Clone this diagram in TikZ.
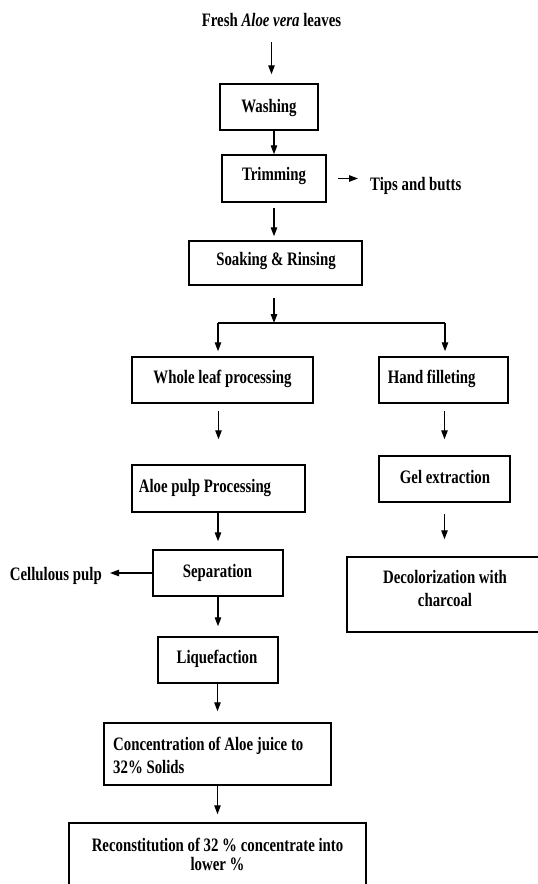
\documentclass[tikz,border=0pt]{standalone}
\usepackage{fontspec}
\setmainfont{Liberation Serif}[FakeStretch=0.78]
\usetikzlibrary{arrows.meta}
\begin{document}
\begin{tikzpicture}[x=1bp,y=-1bp,
  box/.style={draw, line width=1.5bp, rectangle, inner sep=0pt},
  txt/.style={inner sep=0pt, font=\fontsize{19bp}{23bp}\selectfont\bfseries},
  arr/.style={line width=1.25bp, -{Triangle[length=9bp,width=6.5bp]}},
  ln/.style={line width=1.25bp}]
\useasboundingbox (0,0) rectangle (538,884);
\fill[white] (0,0) rectangle (538,884);
\clip (0,0) rectangle (538,884);

% boxes
\node[box, minimum width=98bp,  minimum height=46bp] (wash)  at (269,107) {};
\node[box, minimum width=104bp, minimum height=47bp] (trim)  at (274,178.5) {};
\node[box, minimum width=173bp, minimum height=44bp] (soak)  at (275.5,263) {};
\node[box, minimum width=181bp, minimum height=46bp] (whole) at (222.5,380) {};
\node[box, minimum width=129bp, minimum height=46bp] (hand)  at (443.5,380) {};
\node[box, minimum width=173bp, minimum height=47bp] (pulp)  at (218.5,488.5) {};
\node[box, minimum width=131bp, minimum height=46bp] (gel)   at (444.5,479) {};
\node[box, minimum width=130bp, minimum height=46bp] (sep)   at (218,573) {};
\node[box, minimum width=198bp, minimum height=75bp] (decol) at (446,594.5) {};
\node[box, minimum width=120bp, minimum height=46bp] (liq)   at (218,660) {};
\node[box, minimum width=227bp, minimum height=62bp] (conc)  at (217.5,754) {};
\node[box, minimum width=297bp, minimum height=66bp] (recon) at (217.5,856) {};

% texts
\node[txt, anchor=base] (fresh) at (271.5,26) {Fresh \textit{Aloe vera} leaves};
\node[txt, anchor=base] (washT) at (269,112) {Washing};
\node[txt, anchor=base] (trimT) at (274,180) {Trimming};
\node[txt, anchor=base west] (tips) at (370,190) {Tips and butts};
\node[txt, anchor=base] (soakT) at (276,265) {Soaking \& Rinsing};
\node[txt, anchor=base] (wholeT) at (222.5,383) {Whole leaf processing};
\node[txt, anchor=base] (handT) at (431.7,383) {Hand filleting};
\node[txt, anchor=base] (pulpT) at (205,492) {Aloe pulp Processing};
\node[txt, anchor=base] (gelT) at (445,483) {Gel extraction};
\node[txt, anchor=base] (sepT) at (217.5,577) {Separation};
\node[txt, anchor=base east] (cell) at (102,580) {Cellulous pulp};
\node[txt, align=center] (decolT) at (445,588) {Decolorization with\\charcoal};
\node[txt, anchor=base] (liqT) at (217,663) {Liquefaction};
\node[txt, align=left, anchor=west] (concT) at (113,755) {Concentration of Aloe juice to\\32\% Solids};
\node[txt, align=center, font=\fontsize{19bp}{19bp}\selectfont\bfseries] (reconT) at (217.5,854) {Reconstitution of 32 \% concentrate into\\lower \%};

% connectors
\coordinate (split) at (274,323);
\coordinate (sl) at (218,323);
\coordinate (sr) at (445,323);

\draw[arr, shorten <=16bp, shorten >=9bp] (fresh.south) -- (fresh.south |- wash.north);
\draw[arr] (wash.south -| trim.north) -- (trim.north);
\draw[arr, shorten <=5bp, shorten >=4bp] (trim.south) -- (trim.south |- soak.north);
\draw[arr, shorten <=11bp, shorten >=12bp] (trim.east) -- (trim.east -| tips.west);
\draw[arr, shorten <=12bp] (soak.south -| split) -- (split);
\draw[ln] (sl) -- (sr);
\draw[arr, shorten >=5bp] (sl) -- (sl |- whole.north);
\draw[arr, shorten >=5bp] (sr) -- (sr |- hand.north);
\draw[arr, shorten <=7bp, shorten >=25bp] (whole.south -| pulp.north) -- (pulp.north);
\draw[arr, shorten <=7bp, shorten >=16bp] (hand.south -| gel.north) -- (gel.north);
\draw[arr, shorten >=8bp] (pulp.south -| sep.north) -- (sep.north);
\draw[arr, shorten <=11bp, shorten >=17bp] (gel.south) -- (gel.south |- decol.north);
\draw[arr, shorten >=8bp] (sep.west) -- (sep.west -| cell.east);
\draw[arr, shorten >=10bp] (sep.south -| liq.north) -- (liq.north);
\draw[arr, shorten >=11bp] (liq.south -| conc.north) -- (conc.north);
\draw[arr, shorten >=8bp] (conc.south -| recon.north) -- (recon.north);
\end{tikzpicture}
\end{document}
